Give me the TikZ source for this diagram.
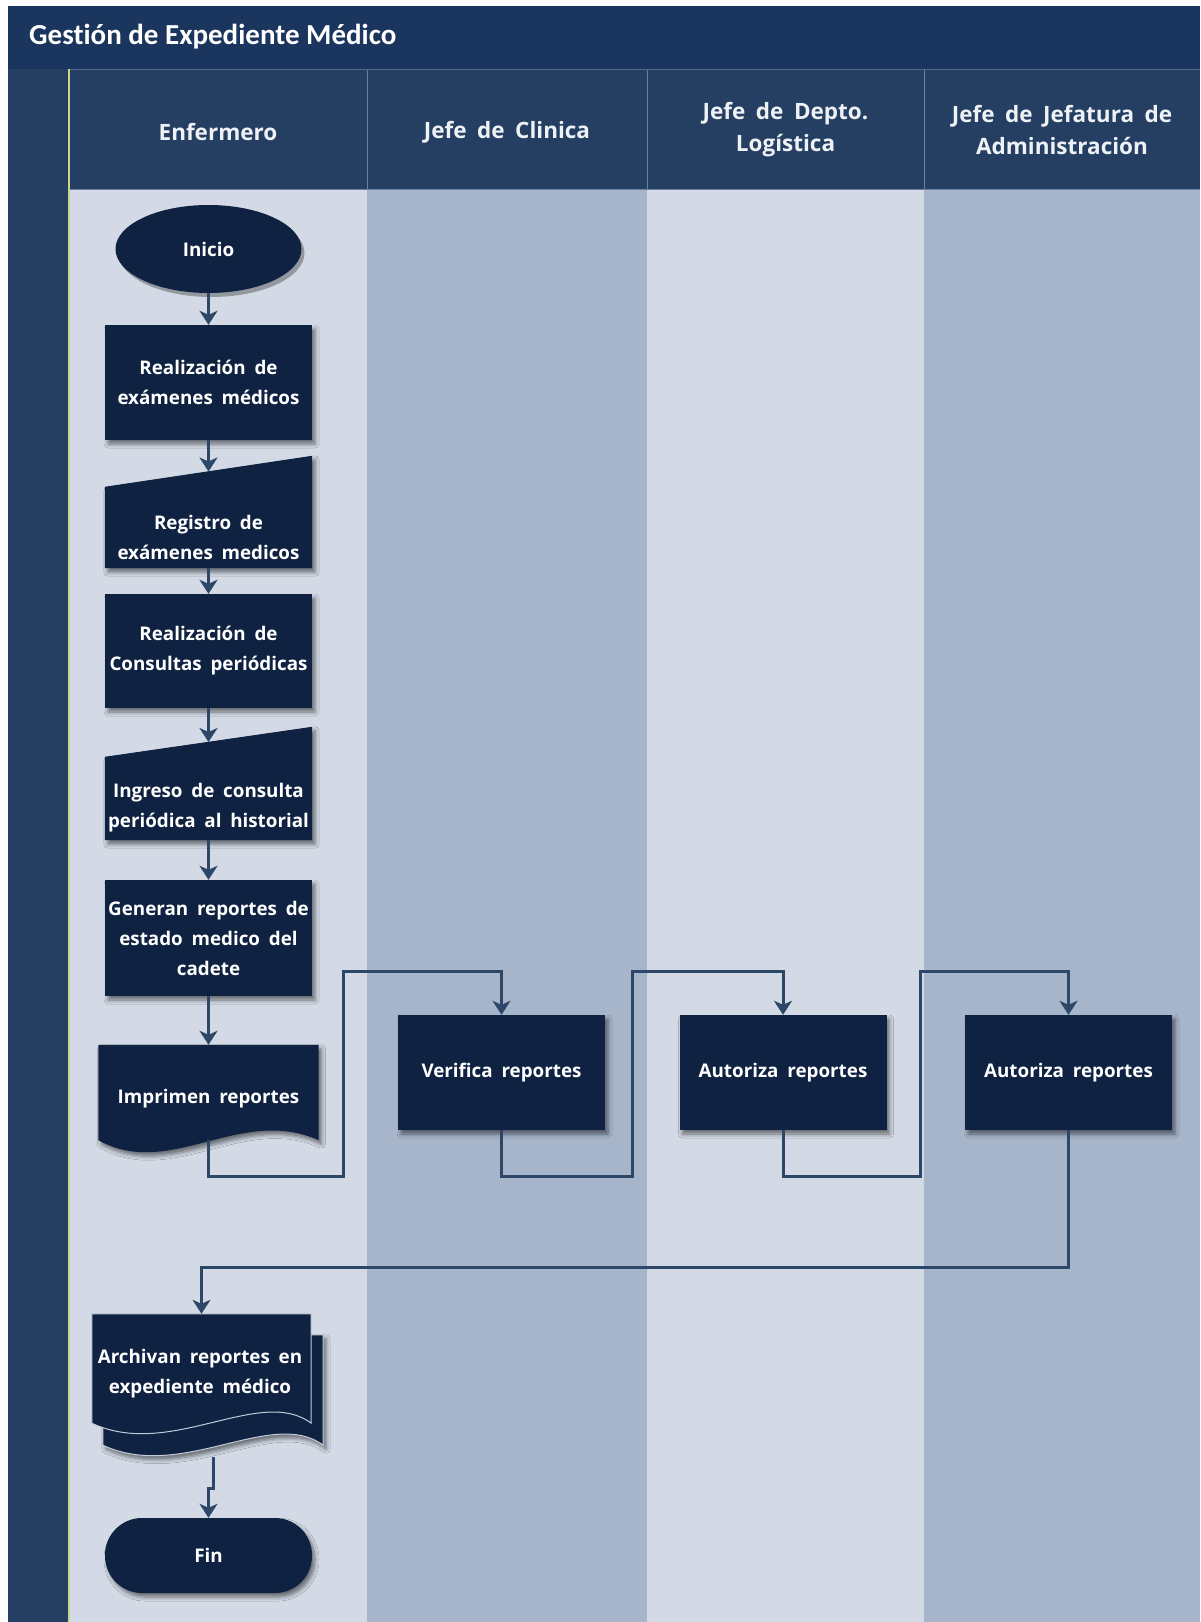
\documentclass[tikz,border=0pt]{standalone}
\usepackage{fontspec}
\usetikzlibrary{shapes.geometric,arrows.meta,shadows,shadows.blur}
\newfontfamily\titlefont{Carlito}[Ligatures=NoCommon]
\newfontfamily\labelfont{Open Sans}[WordSpace=1.3]
\newfontfamily\laneheadfont{Open Sans}[WordSpace=1.8]
\newcommand\flowtext{\labelfont\bfseries\fontsize{18.8}{30}\selectfont}
\newcommand\headtextfont{\laneheadfont\bfseries\fontsize{22.5}{32}\selectfont}

\definecolor{titlebar}{HTML}{1B365E}
\definecolor{headbar}{HTML}{243F62}
\definecolor{lanelight}{HTML}{D3DAE5}
\definecolor{lanedark}{HTML}{A7B5CB}
\definecolor{shapefill}{HTML}{0F2241}
\definecolor{linkcol}{HTML}{2D4768}
\definecolor{headline}{HTML}{6A81A1}
\definecolor{accent}{HTML}{C9D48E}
\definecolor{headtext}{HTML}{EEF1F5}
\definecolor{edgecol}{HTML}{C3CCD9}

\begin{document}
\begin{tikzpicture}[x=1pt,y=-1pt,
  every node/.style={inner sep=0pt},
  lanehead/.style={text=headtext, font=\headtextfont, align=center},
  shadowed/.style={blur shadow={shadow xshift=3pt,shadow yshift=-4pt,shadow blur radius=4pt,shadow opacity=50}},
  flatshadow/.style={general shadow={fill=black, opacity=0.3, shadow xshift=3pt, shadow yshift=-4pt}},
  procbox/.style={shadowed, fill=shapefill, text=white, font=\flowtext, align=center,
                  minimum width=207pt, minimum height=115pt},
  flowlabel/.style={text=white, font=\flowtext, align=center},
  flowlink/.style={draw=linkcol, line width=3pt,
                   -{Stealth[length=14pt,width=18pt,inset=4pt]}}]

\useasboundingbox (0,0) rectangle (1200,1622);

% swimlane background
\fill[white] (0,0) rectangle (1200,1622);
\fill[titlebar] (8,6) rectangle (1200,69);
\fill[headbar] (8,69) rectangle (1200,189);
\fill[lanelight] (69,189) rectangle (367,1622);
\fill[lanedark]  (367,189) rectangle (647,1622);
\fill[lanelight] (647,189) rectangle (924,1622);
\fill[lanedark]  (924,189) rectangle (1200,1622);
\fill[headbar] (8,189) rectangle (69,1622);
\draw[headline, line width=1pt] (367,69) -- (367,189) (647,69) -- (647,189) (924,69) -- (924,189);
\draw[headline, line width=1pt] (69,189) -- (1200,189);
\draw[headline!70!titlebar, line width=1pt] (69,69) -- (1200,69);
\draw[accent, line width=2pt] (69,69) -- (69,1622);

% titles
\node[anchor=west, text=white, font=\titlefont\bfseries\fontsize{29}{34}\selectfont] (title) at (29,37) {Gestión de Expediente Médico};
\node[lanehead] (h1) at (218,132) {Enfermero};
\node[lanehead] (h2) at (507,132) {Jefe de Clinica};
\node[lanehead] (h3) at (785.5,130) {Jefe de Depto.\\Logística};
\node[lanehead] (h4) at (1062,130) {Jefe de Jefatura de\\Administración};

% Enfermero lane
\node[flatshadow, fill=shapefill, text=white, font=\flowtext, ellipse, minimum width=186pt, minimum height=88pt] (ini) at (208.5,249) {Inicio};
\node[procbox] (real1) at (208.5,382.5) {Realización de\\exámenes médicos};

\node[minimum width=207pt, minimum height=112pt] (reg) at (208.5,512) {};
\fill[shapefill, shadowed] (reg.south west) -- ([yshift=-31pt]reg.north west) -- (reg.north east) -- (reg.south east) -- cycle;
\node[flowlabel] (regtext) at (208.5,537) {Registro de\\exámenes medicos};
\coordinate (regtop) at (208.5,471.5);

\node[procbox, minimum height=114pt] (real2) at (208.5,651) {Realización de\\Consultas periódicas};

\node[minimum width=207pt, minimum height=113pt] (ing) at (208.5,783.5) {};
\fill[shapefill, shadowed] (ing.south west) -- ([yshift=-30pt]ing.north west) -- (ing.north east) -- (ing.south east) -- cycle;
\node[flowlabel] (ingtext) at (208.5,808) {Ingreso de consulta\\periódica al historial};
\coordinate (ingtop) at (208.5,742);

\node[procbox, minimum height=116pt] (gen) at (208.5,938) {Generan reportes de\\estado medico del\\cadete};

\node[minimum width=220pt, minimum height=95pt] (imp) at (208.5,1092.5) {};
\fill[shapefill, shadowed] (imp.south west) -- (imp.north west) -- (imp.north east) -- (imp.south east)
  .. controls (240,1105) and (170,1180) .. (imp.south west) -- cycle;
\node[flowlabel] (imptext) at (208.5,1099) {Imprimen reportes};

% approval lanes
\node[procbox] (ver) at (501.5,1072.5) {Verifica reportes};
\node[procbox] (aut1) at (783,1072.5) {Autoriza reportes};
\node[procbox] (aut2) at (1068.5,1072.5) {Autoriza reportes};

% filing (stacked documents)
\node[minimum width=220pt, minimum height=110pt] (arch2) at (213,1390) {};
\filldraw[fill=shapefill, draw=edgecol, line width=1pt, shadowed] (arch2.south west) -- (arch2.north west) -- (arch2.north east) -- (arch2.south east)
  .. controls (272,1407) and (182,1482) .. (arch2.south west) -- cycle;
\node[minimum width=219pt, minimum height=109pt] (arch) at (201.5,1368.5) {};
\filldraw[fill=shapefill, draw=edgecol, line width=1pt] (arch.south west) -- (arch.north west) -- (arch.north east) -- (arch.south east)
  .. controls (260,1385) and (170,1460) .. (arch.south west) -- cycle;
\node[flowlabel] (archtext) at (200,1374) {Archivan reportes en\\expediente médico};
\coordinate (archout) at (213,1457);

\node[procbox, minimum height=75pt, rounded corners=37pt] (fin) at (208.5,1555.5) {Fin};

% bend points of the routed connectors
\coordinate (j1) at (343,1176);  \coordinate (k1) at (343,971);
\coordinate (j2) at (632,1176);  \coordinate (k2) at (632,971);
\coordinate (j3) at (920,1176);  \coordinate (k3) at (920,971);
\coordinate (j4) at (201.5,1267);
\coordinate (j5) at (213,1488);

% connectors
\draw[flowlink] (ini) -- (real1);
\draw[flowlink] (real1) -- (regtop);
\draw[flowlink] (reg.south) -- (real2);
\draw[flowlink] (real2) -- (ingtop);
\draw[flowlink] (ing.south) -- (gen);
\draw[flowlink] (gen) -- (imp);
\draw[flowlink] (imp.south) |- (j1) -- (k1) -| (ver.north);
\draw[flowlink] (ver.south) |- (j2) -- (k2) -| (aut1.north);
\draw[flowlink] (aut1.south) |- (j3) -- (k3) -| (aut2.north);
\draw[flowlink] (aut2.south) |- (j4) -- (arch.north);
\draw[flowlink] (archout) -- (j5) -| (fin.north);
\end{tikzpicture}
\end{document}
